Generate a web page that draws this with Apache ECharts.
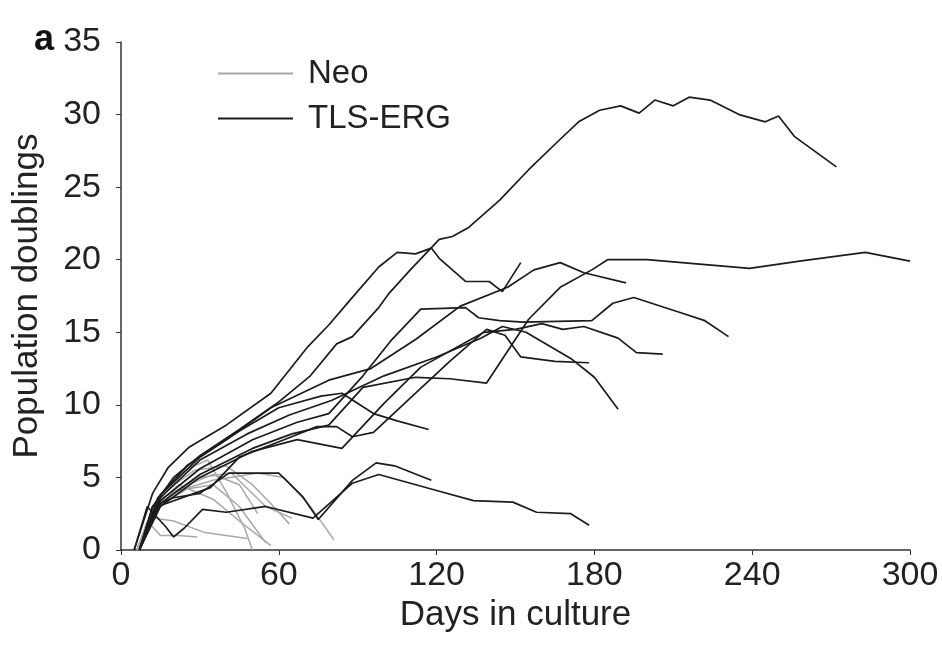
<!DOCTYPE html>
<html>
<head>
<meta charset="utf-8">
<script src="https://cdn.jsdelivr.net/npm/echarts@6/dist/echarts.min.js"></script>
<style>
  html, body { margin: 0; padding: 0; background: #fff; }
  #chart { width: 942px; height: 649px; }
</style>
</head>
<body>
<div id="chart"></div>
<script>
// Neo runs: [day, population doublings]
let neo1 = [[6,0],[12,2.5],[20,4],[35,4.8],[52,5.3],[62,5.0],[72,3],[81,0.7]]
let neo2 = [[6,0],[15,3.5],[30,5],[42,5.3],[55,3],[65,2.2]]
let neo3 = [[6,0],[14,3.5],[24,5.5],[33,6.2],[40,4],[47,1.5],[50,0]]
let neo4 = [[6,0],[14,3],[25,4.2],[35,4.5],[45,3],[55,0.5]]
let neo5 = [[6,0],[10,2],[15,1],[22,1],[29,0.9]]
let neo6 = [[6,0],[13,3],[22,4.5],[35,3.5],[45,2],[57,0.3]]
let neo7 = [[6,0],[15,3.8],[28,5.5],[40,5.8],[50,4.5],[58,3],[64,1.8]]
let neo8 = [[6,0],[15,3.5],[25,4.5],[35,5.2],[45,4.5],[52,2.5]]
let neo9 = [[6,0],[12,2.2],[20,2.0],[32,1.2],[48,0.8]]

// TLS-ERG runs
let erg1 = [[7,0],[12,3],[20,5],[30,6.5],[45,8.3],[60,10.2],[72,12],[82,14.2],[88,14.7],[98,16.7],[102,17.7],[110,19.3],[121,21.4],[126,21.6],[132,22.2],[144,24.1],[155,26.2],[167,28.3],[174,29.5],[182,30.3],[190,30.6],[197,30.1],[203,31.0],[210,30.6],[216,31.2],[224,31.0],[235,30.0],[245,29.5],[250,29.9],[256,28.5],[272,26.4]]
let erg2 = [[5,0],[12,3.9],[18,5.7],[26,7.1],[40,8.6],[57,10.8],[71,14],[79,15.5],[87,17.2],[98,19.5],[105,20.5],[112,20.4],[118,20.8],[121,20.1],[131,18.5],[140,18.5],[145,17.8],[152,19.8]]
let erg3 = [[7,0],[14,3.6],[25,5.8],[40,7.6],[57,9.8],[79,11.7],[95,12.5],[112,14.5],[129,16.8],[147,18.1],[157,19.3],[167,19.8],[176,19.1],[192,18.4]]
let erg4 = [[7,0],[15,3.2],[30,5.2],[50,7],[65,8],[79,8.6],[92,11.2],[112,11.9],[125,11.8],[139,11.5],[155,15.9],[167,18.1],[179,19.3],[185,20],[200,20.0],[220,19.7],[239,19.4],[258,19.9],[283,20.5],[300,19.9]]
let erg5 = [[7,0],[15,3.4],[30,5.6],[50,7.6],[67,8.8],[79,9.4],[92,12],[103,14.5],[114,16.6],[131,16.7],[136,16],[144,15.8],[153,15.7],[179,15.8],[187,17.0],[195,17.4],[212,16.4],[222,15.8],[231,14.7]]
let erg6 = [[7,0],[15,3],[30,5],[50,6.8],[67,7.6],[84,7.0],[100,10.1],[114,12.6],[138,15.0],[150,15.2],[160,15.6],[168,15.2],[176,15.4],[189,14.6],[196,13.6],[206,13.5]]
let erg7 = [[7,0],[15,3.6],[30,6.2],[48,8],[64,9.3],[80,10.3],[100,12],[120,13.3],[137,14.6],[145,15.4],[154,15],[171,13.2],[180,11.9],[189,9.7]]
let erg8 = [[7,0],[14,3],[34,4.3],[45,6.4],[62,7.6],[74.5,8.5],[82,8.5],[88,7.8],[96,8.1],[112,10.8],[125,13],[139,15.2],[146,14.8],[152,13.3],[165,13],[178,12.9]]
let erg9 = [[7,0],[15,3.8],[30,6.4],[45,8.2],[60,9.8],[76,10.6],[84,10.8],[96,9.4],[105,8.9],[117,8.3]]
let erg10 = [[7,0],[12,3],[20,3.6],[30,3.9],[41,5.3],[60,5.3],[69,3.7],[75,2.1],[88,4.8],[97,6.0],[104,5.8],[118,4.8]]
let erg11 = [[5,0],[10,3],[17,1.6],[20,0.9],[24,1.5],[31,2.8],[40,2.6],[55,3.0],[73,2.2],[88,4.6],[98,5.2],[120,4.1],[134,3.4],[149,3.3],[158,2.6],[171,2.5],[178,1.7]]

let neoRuns = [neo1, neo2, neo3, neo4, neo5, neo6, neo7, neo8, neo9]
let ergRuns = [erg1, erg2, erg3, erg4, erg5, erg6, erg7, erg8, erg9, erg10, erg11]

let xTicks = [0, 60, 120, 180, 240, 300]
let yTicks = [0, 5, 10, 15, 20, 25, 30, 35]

let colors = {
  neo: '#a8a8a8',
  erg: '#1c1c1c',
  text: '#222222'
}
let font = "'Liberation Sans', Arial, sans-serif"

function makeSeries(name, runs, color, width) {
  return runs.map(run => ({
    name: name,
    type: 'line',
    data: run,
    symbol: 'none',
    color: color,
    lineStyle: { color: color, width: width },
    silent: true
  }))
}

let series = [].concat(
  makeSeries('Neo', neoRuns, colors.neo, 1.5),
  makeSeries('TLS-ERG', ergRuns, colors.erg, 1.7)
)

let option = {
  animation: false,
  backgroundColor: '#fff',
  grid: { left: 121, right: 32, top: 42, bottom: 99 },
  graphic: [{
    type: 'text',
    left: 34,
    top: 22,
    style: { text: 'a', font: "bold 36px 'Liberation Sans', Arial, sans-serif", fill: '#111' }
  }],
  legend: {
    orient: 'vertical',
    left: 213,
    top: 52,
    itemWidth: 75,
    itemHeight: 2,
    itemGap: 12,
    icon: 'rect',
    data: ['Neo', 'TLS-ERG'],
    textStyle: { fontFamily: font, fontSize: 33, color: colors.text, padding: [0, 0, 0, 10] }
  },
  xAxis: {
    type: 'value',
    min: 0,
    max: 300,
    interval: 60,
    name: 'Days in culture',
    nameLocation: 'middle',
    nameGap: 31,
    nameTextStyle: { fontFamily: font, fontSize: 35, color: colors.text },
    axisLine: { lineStyle: { color: '#333', width: 1.5 } },
    axisTick: { length: 5, lineStyle: { color: '#333' } },
    axisLabel: {
      fontFamily: font, fontSize: 34, color: colors.text, margin: 9,
      formatter: v => xTicks.indexOf(v) >= 0 ? String(v) : ''
    },
    splitLine: { show: false }
  },
  yAxis: {
    type: 'value',
    min: 0,
    max: 35,
    interval: 5,
    name: 'Population doublings',
    nameLocation: 'middle',
    nameGap: 76,
    nameTextStyle: { fontFamily: font, fontSize: 35, color: colors.text },
    axisLine: { show: true, lineStyle: { color: '#333', width: 1.5 } },
    axisTick: { show: true, length: 5, lineStyle: { color: '#333' } },
    axisLabel: {
      fontFamily: font, fontSize: 34, color: colors.text, margin: 20,
      formatter: v => yTicks.indexOf(v) >= 0 ? String(v) : ''
    },
    splitLine: { show: false }
  },
  series: series
}

let chart = echarts.init(document.getElementById('chart'))
chart.setOption(option)
</script>
</body>
</html>
